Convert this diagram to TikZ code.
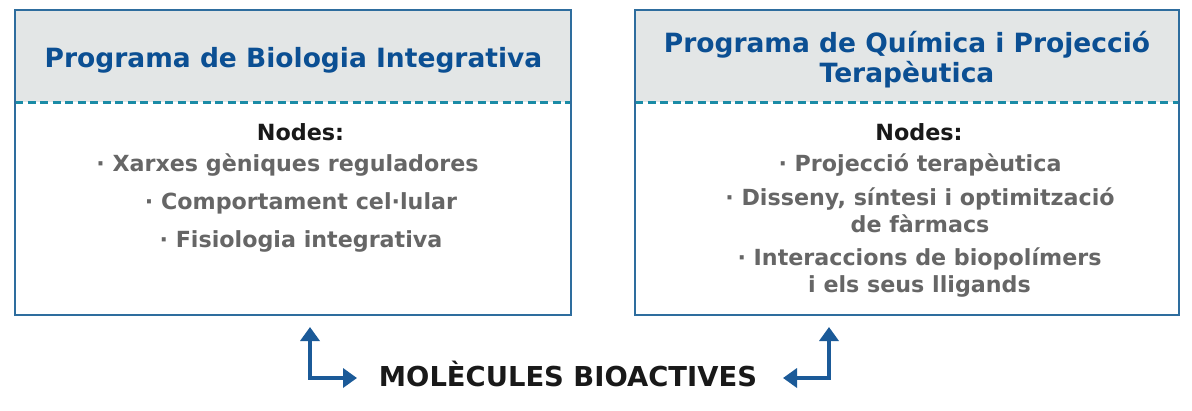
\documentclass[tikz,border=0pt]{standalone}
\usepackage{fontspec}
\setmainfont{DejaVu Sans}
\usetikzlibrary{arrows.meta,calc}
\definecolor{hdrblue}{HTML}{0B4F93}
\definecolor{boxblue}{HTML}{2E6D9E}
\definecolor{hdrfill}{HTML}{E3E6E6}
\definecolor{dashteal}{HTML}{1A8BA6}
\definecolor{itemgray}{HTML}{666666}
\definecolor{arrowblue}{HTML}{1B5A98}
\tikzset{
  panel/.style={draw=boxblue, line width=2pt, minimum width=557pt, minimum height=305pt, inner sep=0pt},
  hdrtext/.style={text=hdrblue, font=\fontsize{26.5}{30}\selectfont\bfseries, align=center, inner sep=0pt},
  nodestitle/.style={text=black!90, font=\fontsize{22.3}{27}\selectfont\bfseries, inner sep=0pt},
  itemtext/.style={text=itemgray, font=\fontsize{22.2}{27}\selectfont\bfseries, align=center, inner sep=0pt},
  moltext/.style={text=black!90, font=\fontsize{27.4}{30}\selectfont\bfseries, inner sep=0pt, anchor=base},
  sep/.style={draw=dashteal, line width=3pt, dash pattern=on 8pt off 4.5pt},
  elbow/.style={draw=arrowblue, line width=4pt, {Triangle[width=19pt,length=14pt]}-{Triangle[width=19pt,length=14pt]}}
}
\begin{document}
\begin{tikzpicture}[x=1pt,y=-1pt]
\useasboundingbox (0,0) rectangle (1192,410);
\fill[white] (0,0) rectangle (1192,410);
% left panel
\fill[hdrfill] (15,10) rectangle (571,102);
\draw[sep] (15,102) -- (571,102);
\node[panel, minimum width=556pt] (lbox) at (293,162.5) {};
\node[hdrtext] (lhead) at (293.5,60) {Programa de Biologia Integrativa};
\node[nodestitle] (lnodes) at (300.5,132) {Nodes:};
\node[itemtext] (l1) at (287.5,165) {· Xarxes gèniques reguladores};
\node[itemtext] (l2) at (301,203) {· Comportament cel·lular};
\node[itemtext] (l3) at (301,241) {· Fisiologia integrativa};
% right panel
\fill[hdrfill] (635,10) rectangle (1179,102);
\draw[sep] (635,102) -- (1179,102);
\node[panel, minimum width=544pt] (rbox) at (907,162.5) {};
\node[hdrtext] (rhead) at (907,60) {Programa de Química i Projecció\\Terapèutica};
\node[nodestitle] (rnodes) at (919,132) {Nodes:};
\node[itemtext] (r1) at (920,165) {· Projecció terapèutica};
\node[itemtext] (r2) at (920,210) {· Disseny, síntesi i optimització\\de fàrmacs};
\node[itemtext] (r3) at (919.5,273) {· Interaccions de biopolímers\\i els seus lligands};
% bottom
\node[moltext] (mol) at (568,386) {MOLÈCULES BIOACTIVES};
\coordinate (ltop) at (310,327);
\coordinate (lend) at (357,378);
\coordinate (rtop) at (829,327);
\coordinate (rend) at (783,378);
\draw[elbow] (ltop) |- (lend);
\draw[elbow] (rtop) |- (rend);
\end{tikzpicture}
\end{document}
